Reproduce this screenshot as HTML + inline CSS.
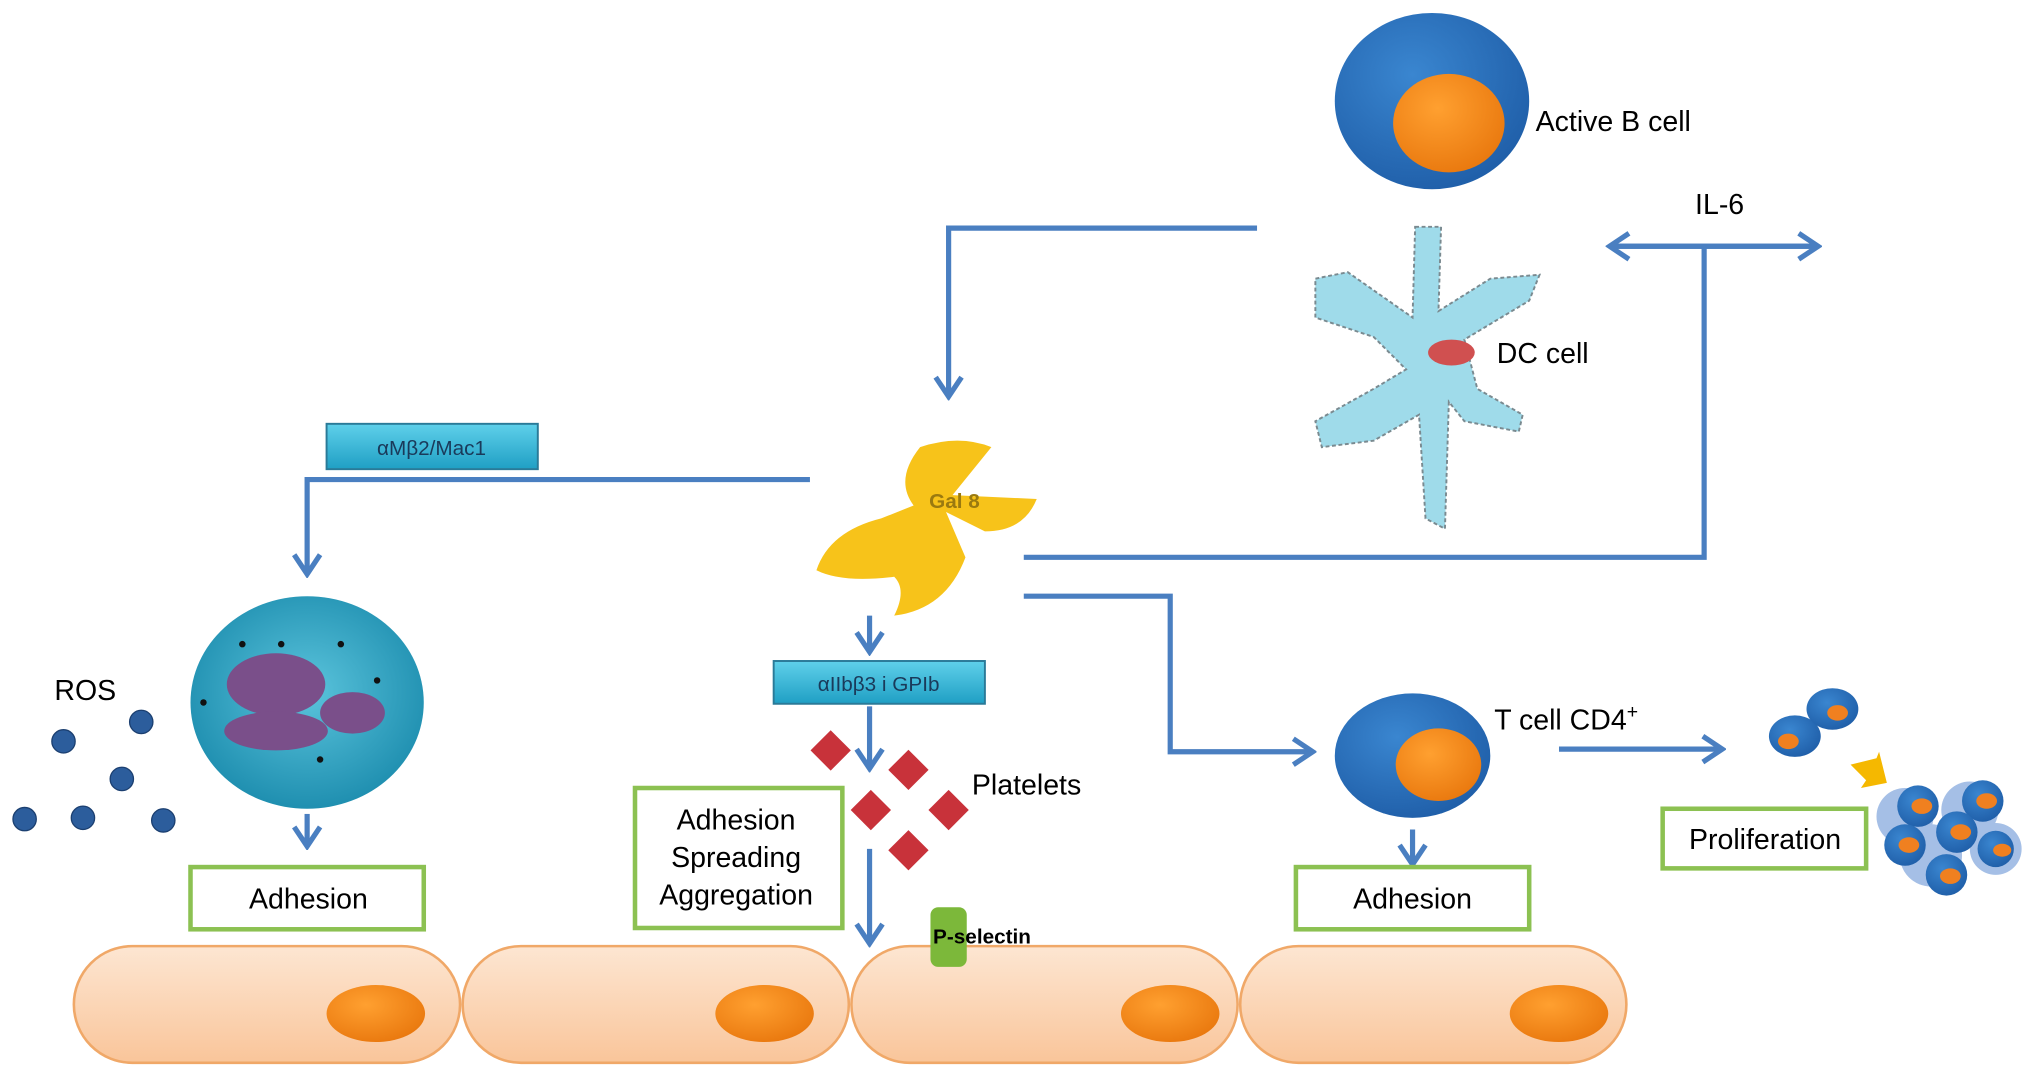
<!DOCTYPE html>
<html><head><meta charset="utf-8"><style>
html,body{margin:0;padding:0;background:#fff;}
svg{display:block;}
text{font-family:"Liberation Sans",sans-serif;}
</style></head><body>
<svg width="2032" height="1090" viewBox="0 0 1568 841" preserveAspectRatio="none" xmlns="http://www.w3.org/2000/svg">
<defs>
<marker id="ah2" markerWidth="24" markerHeight="24" refX="20" refY="12" orient="auto" markerUnits="userSpaceOnUse">
<path d="M6,2 L21,12 L6,22" fill="none" stroke="#4a7fc1" stroke-width="4"/>
</marker>
<linearGradient id="endo" x1="0" y1="0" x2="0" y2="1">
<stop offset="0" stop-color="#fde6d2"/><stop offset="1" stop-color="#f9c59a"/>
</linearGradient>
<linearGradient id="cyan" x1="0" y1="0" x2="0" y2="1">
<stop offset="0" stop-color="#5fd0ea"/><stop offset="1" stop-color="#1f9fc4"/>
</linearGradient>
<radialGradient id="neu" cx="0.5" cy="0.45" r="0.55">
<stop offset="0" stop-color="#5bc4dc"/><stop offset="1" stop-color="#1f8fb0"/>
</radialGradient>
<radialGradient id="bl" cx="0.4" cy="0.35" r="0.7">
<stop offset="0" stop-color="#3a86d0"/><stop offset="1" stop-color="#1f5ea8"/>
</radialGradient>
<radialGradient id="or" cx="0.4" cy="0.35" r="0.7">
<stop offset="0" stop-color="#ffa030"/><stop offset="1" stop-color="#e9780e"/>
</radialGradient>
</defs>
<g fill="none" stroke="#4a7fc1" stroke-width="4">
<polyline points="970,176 732,176 732,305" marker-end="url(#ah2)"/>
<polyline points="625,370 237,370 237,442" marker-end="url(#ah2)"/>
<line x1="237" y1="628" x2="237" y2="652" marker-end="url(#ah2)"/>
<line x1="671" y1="475" x2="671" y2="502" marker-end="url(#ah2)"/>
<line x1="671" y1="545" x2="671" y2="592" marker-end="url(#ah2)"/>
<line x1="671" y1="655" x2="671" y2="727" marker-end="url(#ah2)"/>
<polyline points="790,460 903,460 903,580 1012,580" marker-end="url(#ah2)"/>
<line x1="1090" y1="640" x2="1090" y2="666" marker-end="url(#ah2)"/>
<line x1="1203" y1="578" x2="1328" y2="578" marker-end="url(#ah2)"/>
<polyline points="790,430 1315,430 1315,190"/>
<line x1="1245" y1="190" x2="1402" y2="190" marker-end="url(#ah2)"/>
<line x1="1402" y1="190" x2="1243" y2="190" marker-end="url(#ah2)"/>
</g>
<ellipse cx="1105" cy="78" rx="75" ry="68" fill="url(#bl)"/>
<ellipse cx="1118" cy="95" rx="43" ry="38" fill="url(#or)"/>
<text x="1185" y="101" font-size="22">Active B cell</text>
<text x="1308" y="165" font-size="22">IL-6</text>
<path d="M1092,175 L1112,175 L1110,240 L1150,215 L1188,212 L1180,232 L1130,262 L1140,300 L1175,320 L1172,333 L1130,325 L1118,310 L1115,408 L1100,400 L1095,320 L1060,340 L1020,345 L1015,325 L1060,300 L1085,285 L1060,260 L1015,245 L1015,215 L1040,210 L1090,245 Z" fill="#9fdbea" stroke="#7a8a90" stroke-width="1.5" stroke-dasharray="3,2"/>
<ellipse cx="1120" cy="272" rx="18" ry="10" fill="#d05050"/>
<text x="1155" y="280" font-size="22">DC cell</text>
<path d="M710,345 Q740,335 765,345 L735,382 L800,385 Q790,410 760,410 L730,395 L745,430 Q730,470 690,475 Q700,455 690,445 Q650,450 630,440 Q640,410 680,400 L705,390 Q690,370 710,345 Z" fill="#f7c31a"/>
<text x="717" y="392" font-size="16" font-weight="bold" fill="#9a7a10">Gal 8</text>
<rect x="252" y="327" width="163" height="35" fill="url(#cyan)" stroke="#2a7a98" stroke-width="1.5"/>
<text x="333" y="351" font-size="16" text-anchor="middle" fill="#1a3a5a">αMβ2/Mac1</text>
<ellipse cx="237" cy="542" rx="90" ry="82" fill="url(#neu)"/>
<ellipse cx="213" cy="528" rx="38" ry="24" fill="#7a4f8a"/>
<ellipse cx="213" cy="564" rx="40" ry="15" fill="#7a4f8a"/>
<ellipse cx="272" cy="550" rx="25" ry="16" fill="#7a4f8a"/>
<g fill="#111"><circle cx="187" cy="497" r="2.5"/><circle cx="217" cy="497" r="2.5"/><circle cx="263" cy="497" r="2.5"/><circle cx="291" cy="525" r="2.5"/><circle cx="157" cy="542" r="2.5"/><circle cx="247" cy="586" r="2.5"/></g>
<text x="42" y="540" font-size="22">ROS</text>
<g fill="#2c5d9c" stroke="#1b3f70" stroke-width="1"><circle cx="49" cy="572" r="9"/><circle cx="109" cy="557" r="9"/><circle cx="94" cy="601" r="9"/><circle cx="19" cy="632" r="9"/><circle cx="64" cy="631" r="9"/><circle cx="126" cy="633" r="9"/></g>
<rect x="597" y="510" width="163" height="33" fill="url(#cyan)" stroke="#2a7a98" stroke-width="1.5"/>
<text x="678" y="533" font-size="16" text-anchor="middle" fill="#1a3a5a">αIIbβ3 i GPIb</text>
<g fill="#c8323a">
<rect x="630" y="568" width="22" height="22" transform="rotate(45 641 579)"/>
<rect x="690" y="583" width="22" height="22" transform="rotate(45 701 594)"/>
<rect x="661" y="614" width="22" height="22" transform="rotate(45 672 625)"/>
<rect x="721" y="614" width="22" height="22" transform="rotate(45 732 625)"/>
<rect x="690" y="645" width="22" height="22" transform="rotate(45 701 656)"/>
</g>
<text x="750" y="613" font-size="22">Platelets</text>
<g fill="#fff" stroke="#8cc152" stroke-width="3.5">
<rect x="147" y="669" width="180" height="48"/>
<rect x="490" y="608" width="160" height="108"/>
<rect x="1000" y="669" width="180" height="48"/>
<rect x="1283" y="624" width="157" height="46"/>
</g>
<g font-size="22" text-anchor="middle">
<text x="238" y="701">Adhesion</text>
<text x="568" y="640">Adhesion</text>
<text x="568" y="669">Spreading</text>
<text x="568" y="698">Aggregation</text>
<text x="1090" y="701">Adhesion</text>
<text x="1362" y="655">Proliferation</text>
</g>
<ellipse cx="1090" cy="583" rx="60" ry="48" fill="url(#bl)"/>
<ellipse cx="1110" cy="590" rx="33" ry="28" fill="url(#or)"/>
<text x="1153" y="563" font-size="22">T cell CD4<tspan dy="-9" font-size="15">+</tspan></text>
<ellipse cx="1385" cy="568" rx="20" ry="16" fill="url(#bl)"/><ellipse cx="1380" cy="572" rx="8" ry="6" fill="#f08020"/>
<ellipse cx="1414" cy="547" rx="20" ry="16" fill="url(#bl)"/><ellipse cx="1418" cy="550" rx="8" ry="6" fill="#f08020"/>
<path d="M1428,590 L1448,585 L1450,580 L1456,604 L1436,608 L1440,602 Z" fill="#f5b800"/>
<g fill="#8fb0e0" opacity="0.8"><circle cx="1470" cy="630" r="22"/><circle cx="1520" cy="625" r="22"/><circle cx="1490" cy="660" r="24"/><circle cx="1540" cy="655" r="20"/></g>
<g fill="url(#bl)"><circle cx="1480" cy="622" r="16"/><circle cx="1530" cy="618" r="16"/><circle cx="1510" cy="642" r="16"/><circle cx="1470" cy="652" r="16"/><circle cx="1502" cy="675" r="16"/><circle cx="1540" cy="655" r="14"/></g>
<g fill="#f08020"><ellipse cx="1483" cy="622" rx="8" ry="6"/><ellipse cx="1533" cy="618" rx="8" ry="6"/><ellipse cx="1513" cy="642" rx="8" ry="6"/><ellipse cx="1473" cy="652" rx="8" ry="6"/><ellipse cx="1505" cy="676" rx="8" ry="6"/><ellipse cx="1545" cy="656" rx="7" ry="5"/></g>
<g fill="url(#endo)" stroke="#f0a868" stroke-width="2">
<rect x="57" y="730" width="298" height="90" rx="45"/>
<rect x="357" y="730" width="298" height="90" rx="45"/>
<rect x="657" y="730" width="298" height="90" rx="45"/>
<rect x="957" y="730" width="298" height="90" rx="45"/>
</g>
<g fill="url(#or)"><ellipse cx="290" cy="782" rx="38" ry="22"/><ellipse cx="590" cy="782" rx="38" ry="22"/><ellipse cx="903" cy="782" rx="38" ry="22"/><ellipse cx="1203" cy="782" rx="38" ry="22"/></g>
<rect x="718" y="700" width="28" height="46" rx="6" fill="#7cb83a"/>
<text x="720" y="728" font-size="16" font-weight="bold">P-selectin</text>
</svg>
</body></html>
